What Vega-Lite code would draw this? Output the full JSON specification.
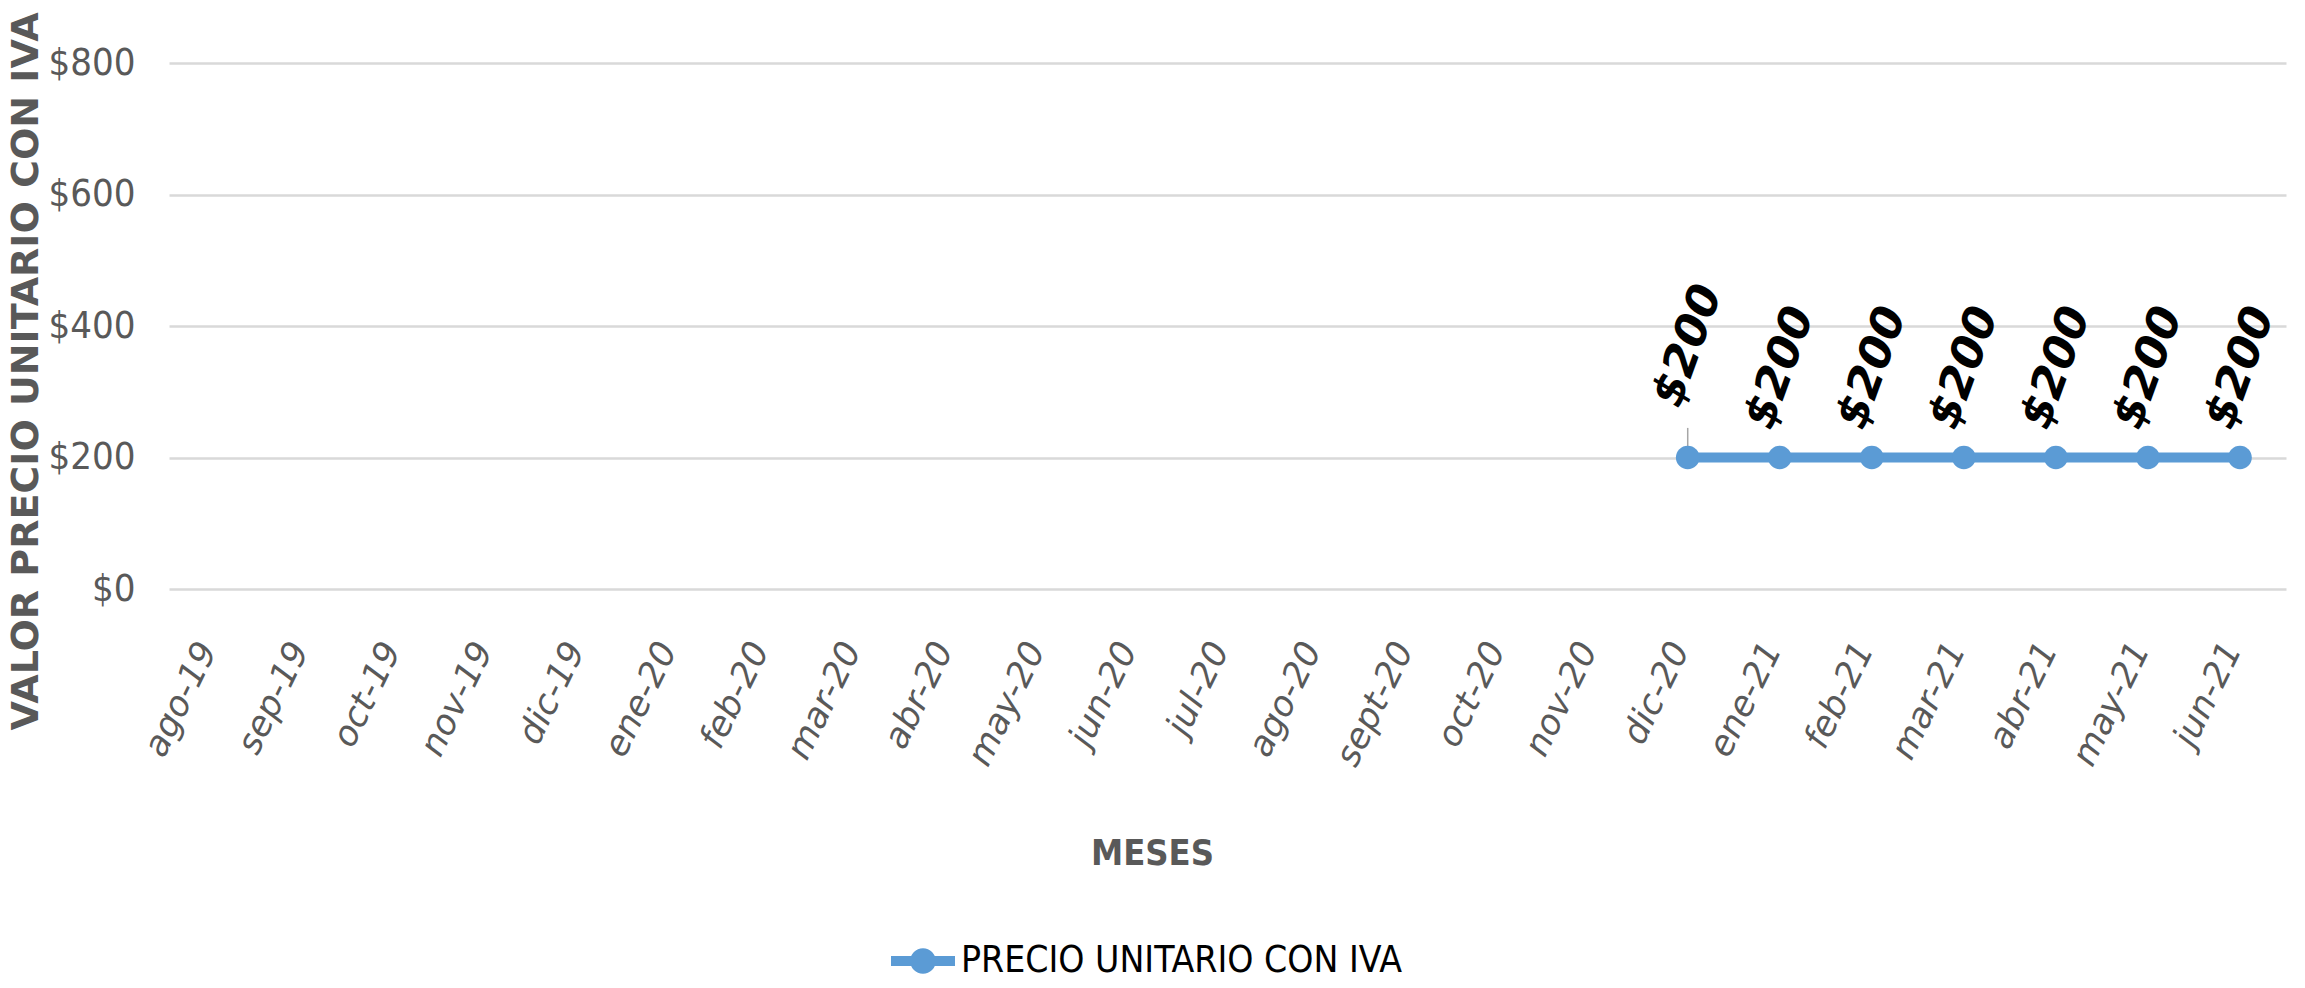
{
  "$schema": "https://vega.github.io/schema/vega-lite/v6.json",
  "width": 2117,
  "height": 526,
  "autosize": {"type": "none"},
  "padding": {"left": 169, "top": 63, "right": 19, "bottom": 399},
  "background": "white",
  "config": {"view": {"stroke": null}},
  "data": {
    "values": [
      {"mes": "ago-19", "precio": null},
      {"mes": "sep-19", "precio": null},
      {"mes": "oct-19", "precio": null},
      {"mes": "nov-19", "precio": null},
      {"mes": "dic-19", "precio": null},
      {"mes": "ene-20", "precio": null},
      {"mes": "feb-20", "precio": null},
      {"mes": "mar-20", "precio": null},
      {"mes": "abr-20", "precio": null},
      {"mes": "may-20", "precio": null},
      {"mes": "jun-20", "precio": null},
      {"mes": "jul-20", "precio": null},
      {"mes": "ago-20", "precio": null},
      {"mes": "sept-20", "precio": null},
      {"mes": "oct-20", "precio": null},
      {"mes": "nov-20", "precio": null},
      {"mes": "dic-20", "precio": 200},
      {"mes": "ene-21", "precio": 200},
      {"mes": "feb-21", "precio": 200},
      {"mes": "mar-21", "precio": 200},
      {"mes": "abr-21", "precio": 200},
      {"mes": "may-21", "precio": 200},
      {"mes": "jun-21", "precio": 200}
    ]
  },
  "encoding": {
    "x": {
      "field": "mes",
      "type": "ordinal",
      "sort": null,
      "scale": {
        "type": "point",
        "padding": 0.5,
        "domain": ["ago-19","sep-19","oct-19","nov-19","dic-19","ene-20","feb-20","mar-20","abr-20","may-20","jun-20","jul-20","ago-20","sept-20","oct-20","nov-20","dic-20","ene-21","feb-21","mar-21","abr-21","may-21","jun-21"]
      },
      "axis": {
        "title": "MESES",
        "titleFont": "DejaVu Sans Condensed, DejaVu Sans",
        "titleFontSize": 36,
        "titleFontWeight": "bold",
        "titleColor": "#595959",
        "titleX": 983,
        "titleY": 264,
        "titleAlign": "center",
        "titleBaseline": "middle",
        "labelAngle": -64,
        "labelAlign": "right",
        "labelBaseline": "middle",
        "labelFont": "DejaVu Sans",
        "labelFontStyle": "italic",
        "labelFontSize": 35,
        "labelColor": "#595959",
        "labelPadding": 55,
        "labelOffset": -8,
        "labelOverlap": false,
        "labelBound": false,
        "ticks": false,
        "domain": false,
        "grid": false
      }
    },
    "y": {
      "field": "precio",
      "type": "quantitative",
      "scale": {"domain": [0, 800]},
      "axis": {
        "title": "VALOR PRECIO UNITARIO CON IVA",
        "titleFont": "DejaVu Sans",
        "titleFontSize": 38,
        "titleFontWeight": "bold",
        "titleColor": "#595959",
        "titleX": -143,
        "titleY": 308,
        "titleAngle": -90,
        "titleAlign": "center",
        "titleBaseline": "middle",
        "values": [0, 200, 400, 600, 800],
        "format": "$,.0f",
        "labelFont": "DejaVu Sans Condensed, DejaVu Sans",
        "labelFontSize": 38,
        "labelColor": "#595959",
        "labelPadding": 34,
        "ticks": false,
        "domain": false,
        "grid": true,
        "gridColor": "#D9D9D9",
        "gridWidth": 2.5
      }
    }
  },
  "layer": [
    {
      "transform": [{"filter": "isValid(datum.precio)"}],
      "mark": {"type": "line", "color": "#5B9BD5", "strokeWidth": 10}
    },
    {
      "transform": [{"filter": "datum.mes == 'dic-20'"}],
      "mark": {"type": "rule", "color": "#A6A6A6", "strokeWidth": 1.5},
      "encoding": {"y2": {"datum": 245}}
    },
    {
      "transform": [{"filter": "isValid(datum.precio)"}],
      "mark": {"type": "point", "filled": true, "size": 560, "opacity": 1, "shape": "circle"},
      "encoding": {
        "color": {
          "datum": "PRECIO UNITARIO CON IVA",
          "scale": {"range": ["#5B9BD5"]},
          "legend": {
            "title": null,
            "orient": "none",
            "legendX": 722,
            "legendY": 866,
            "symbolType": "M-1,-0.16L1,-0.16L1,0.16L-1,0.16Z M-0.4,0A0.4,0.4 0 1,1 0.4,0A0.4,0.4 0 1,1 -0.4,0Z",
            "symbolSize": 4096,
            "symbolStrokeWidth": 0,
            "symbolFillColor": "#5B9BD5",
            "labelFont": "DejaVu Sans Condensed, DejaVu Sans",
            "labelFontSize": 37,
            "labelLimit": 0,
            "labelColor": "black",
            "labelOffset": 6
          }
        }
      }
    },
    {
      "transform": [{"filter": "isValid(datum.precio) && datum.mes != 'dic-20'"}],
      "mark": {
        "type": "text",
        "font": "DejaVu Sans",
        "fontSize": 45,
        "fontWeight": "bold",
        "fontStyle": "italic",
        "angle": -70,
        "radius": 90,
        "theta": 0,
        "align": "center",
        "baseline": "middle",
        "color": "black"
      },
      "encoding": {"text": {"field": "precio", "type": "quantitative", "format": "$,.0f"}}
    },
    {
      "transform": [{"filter": "datum.mes == 'dic-20'"}],
      "mark": {
        "type": "text",
        "font": "DejaVu Sans",
        "fontSize": 45,
        "fontWeight": "bold",
        "fontStyle": "italic",
        "angle": -70,
        "radius": 112,
        "theta": 0,
        "align": "center",
        "baseline": "middle",
        "color": "black"
      },
      "encoding": {"text": {"field": "precio", "type": "quantitative", "format": "$,.0f"}}
    }
  ]
}
